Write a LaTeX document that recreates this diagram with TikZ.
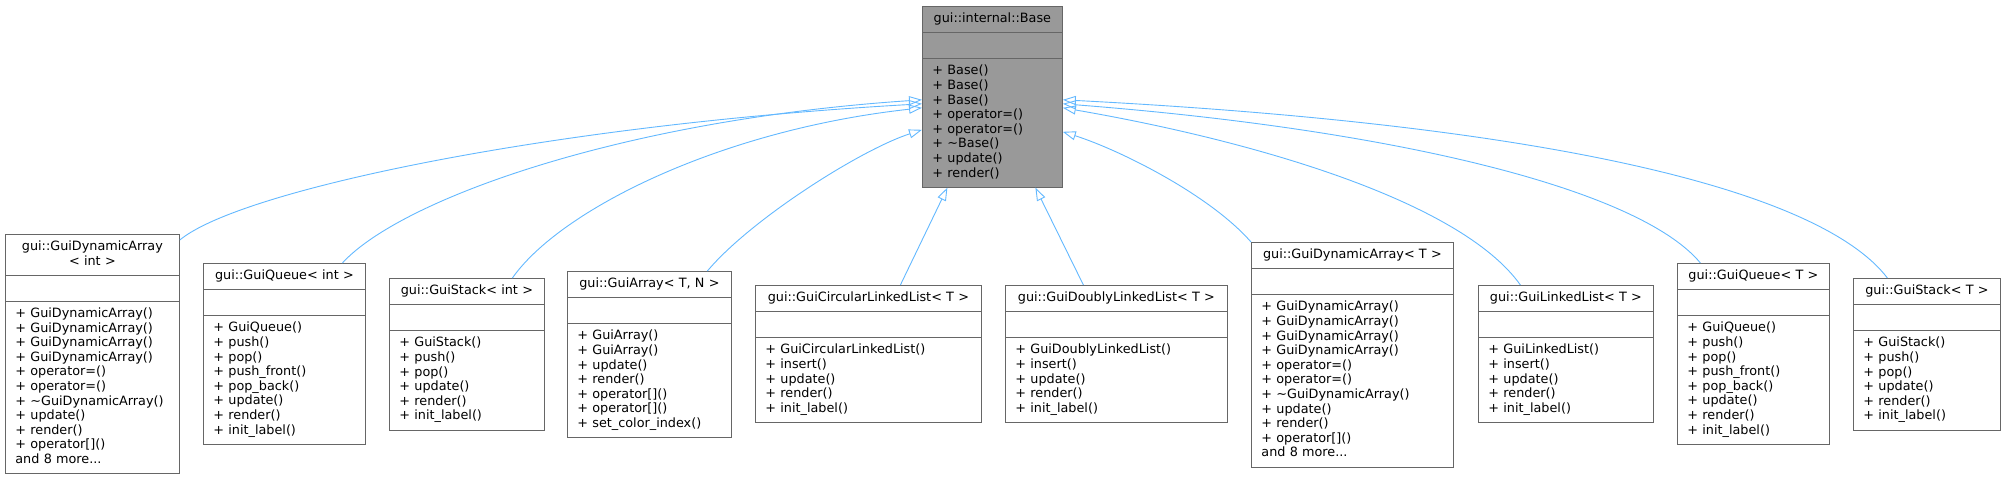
\documentclass[tikz,border=0pt]{standalone}
\usepackage{fontspec}
\newfontfamily\classfont{DejaVu Sans}
\usepackage{xcolor}
\usepackage{tikz}
\usetikzlibrary{arrows.meta}
\usetikzlibrary{shapes.multipart}
\definecolor{edgeblue}{HTML}{63B8FF}
\definecolor{boxgray}{HTML}{666666}
\definecolor{basegray}{HTML}{999999}
\newcommand\mth[1]{\strut+ #1()\par}
\newcommand\ttl[1]{\centering\strut #1\par}
\newcommand\more{\strut and 8 more...\par}
\tikzstyle{classbox}=[rectangle split, rectangle split parts=3, draw=boxgray, line width=.8pt, fill=white,
  anchor=north west, inner xsep=10pt, inner ysep=5.4pt, align=left,
  font=\classfont\fontsize{12.8}{14.6}\selectfont]
\tikzstyle{basebox}=[classbox, fill=basegray]
\tikzstyle{derive}=[draw=edgeblue, line width=.9pt, -{Triangle[open,length=13pt,width=9pt]}]

\begin{document}
\begin{tikzpicture}[x=1pt,y=-1pt]
	\useasboundingbox (0,0) rectangle (2005,477);
	% parent class
	\node[basebox, text width=120pt] (base) at (922,6) {\ttl{gui::internal::Base}
		\nodepart{two}\strut
		\nodepart{three}\mth{Base}\mth{Base}\mth{Base}\mth{operator=}\mth{operator=}%
		\mth{\textasciitilde Base}\mth{update}\mth{render}};
	% derived classes
	\node[classbox, text width=154pt] (daint) at (5,234) {\centering\strut gui::GuiDynamicArray\par\strut< int >\par
		\nodepart{two}\strut
		\nodepart{three}\mth{GuiDynamicArray}\mth{GuiDynamicArray}\mth{GuiDynamicArray}\mth{GuiDynamicArray}%
		\mth{operator=}\mth{operator=}\mth{\textasciitilde GuiDynamicArray}\mth{update}\mth{render}%
		\mth{operator[]}\more};
	\node[classbox, text width=142pt] (qint) at (203,263) {\ttl{gui::GuiQueue< int >}
		\nodepart{two}\strut
		\nodepart{three}\mth{GuiQueue}\mth{push}\mth{pop}\mth{push\_front}\mth{pop\_back}%
		\mth{update}\mth{render}\mth{init\_label}};
	\node[classbox, text width=135pt] (sint) at (389,278) {\ttl{gui::GuiStack< int >}
		\nodepart{two}\strut
		\nodepart{three}\mth{GuiStack}\mth{push}\mth{pop}\mth{update}\mth{render}\mth{init\_label}};
	\node[classbox, text width=144pt] (arr) at (567,271) {\ttl{gui::GuiArray< T, N >}
		\nodepart{two}\strut
		\nodepart{three}\mth{GuiArray}\mth{GuiArray}\mth{update}\mth{render}\mth{operator[]}%
		\mth{operator[]}\mth{set\_color\_index}};
	\node[classbox, text width=206pt] (cll) at (755,285) {\ttl{gui::GuiCircularLinkedList< T >}
		\nodepart{two}\strut
		\nodepart{three}\mth{GuiCircularLinkedList}\mth{insert}\mth{update}\mth{render}\mth{init\_label}};
	\node[classbox, text width=202pt] (dll) at (1005,285) {\ttl{gui::GuiDoublyLinkedList< T >}
		\nodepart{two}\strut
		\nodepart{three}\mth{GuiDoublyLinkedList}\mth{insert}\mth{update}\mth{render}\mth{init\_label}};
	\node[classbox, text width=182pt] (daT) at (1251,242) {\ttl{gui::GuiDynamicArray< T >}
		\nodepart{two}\strut
		\nodepart{three}\mth{GuiDynamicArray}\mth{GuiDynamicArray}\mth{GuiDynamicArray}\mth{GuiDynamicArray}%
		\mth{operator=}\mth{operator=}\mth{\textasciitilde GuiDynamicArray}\mth{update}\mth{render}%
		\mth{operator[]}\more};
	\node[classbox, text width=155pt] (ll) at (1478,285) {\ttl{gui::GuiLinkedList< T >}
		\nodepart{two}\strut
		\nodepart{three}\mth{GuiLinkedList}\mth{insert}\mth{update}\mth{render}\mth{init\_label}};
	\node[classbox, text width=132pt] (qT) at (1677,263) {\ttl{gui::GuiQueue< T >}
		\nodepart{two}\strut
		\nodepart{three}\mth{GuiQueue}\mth{push}\mth{pop}\mth{push\_front}\mth{pop\_back}%
		\mth{update}\mth{render}\mth{init\_label}};
	\node[classbox, text width=127pt] (sT) at (1853,278) {\ttl{gui::GuiStack< T >}
		\nodepart{two}\strut
		\nodepart{three}\mth{GuiStack}\mth{push}\mth{pop}\mth{update}\mth{render}\mth{init\_label}};
	% inheritance edges
	\draw[derive] ([yshift=-6pt]daint.north east) .. controls (240,190) and (550,125) .. ([yshift=-7pt]base.west);
	\draw[derive] ([xshift=58pt]qint.north) .. controls (400,200) and (620,120) .. ([yshift=-3pt]base.west);
	\draw[derive] ([xshift=45.5pt]sint.north) .. controls (560,210) and (720,130) .. ([yshift=-11pt]base.west);
	\draw[derive] ([xshift=58pt]arr.north) .. controls (750,220) and (860,150) .. ([yshift=-33pt]base.west);
	\draw[derive] ([xshift=32pt]cll.north) -- ([xshift=-45pt]base.south);
	\draw[derive] ([xshift=-33pt]dll.north) -- ([xshift=43pt]base.south);
	\draw[derive] (daT.north west) .. controls (1210,195) and (1120,150) .. ([yshift=-35pt]base.east);
	\draw[derive] ([xshift=-45.5pt]ll.north) .. controls (1460,200) and (1250,140) .. ([yshift=-11pt]base.east);
	\draw[derive] ([xshift=-53pt]qT.north) .. controls (1640,190) and (1400,130) .. ([yshift=-7pt]base.east);
	\draw[derive] ([xshift=-39.5pt]sT.north) .. controls (1820,190) and (1550,125) .. ([yshift=-3pt]base.east);
\end{tikzpicture}
\end{document}
